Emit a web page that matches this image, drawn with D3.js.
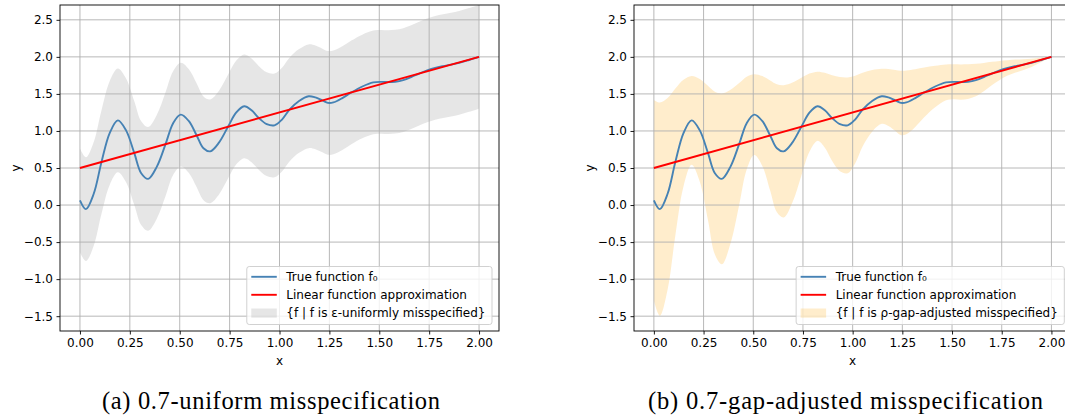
<!DOCTYPE html>
<html>
<head>
<meta charset="utf-8">
<script src="https://cdn.jsdelivr.net/npm/d3@7"></script>
<style>
  html, body { margin: 0; padding: 0; background: #ffffff; }
  svg { display: block; }
</style>
</head>
<body>
<svg id="chart" width="1065" height="420"></svg>
<script>
// ---------------- data ----------------
const xs = [0.000, 0.030, 0.069, 0.108, 0.149, 0.190, 0.231, 0.272, 0.307, 0.342,
            0.3855, 0.429, 0.467, 0.505, 0.545, 0.585, 0.619, 0.653, 0.6975, 0.742,
            0.7825, 0.823, 0.860, 0.897, 0.936, 0.975, 1.0125, 1.050, 1.098, 1.146,
            1.180, 1.215, 1.2425, 1.270, 1.315, 1.360, 1.415, 1.470, 1.510, 1.545,
            1.580, 1.620, 1.660, 1.700, 1.740, 1.780, 1.820, 1.860, 1.900, 1.950, 2.000];

const trueF = [0.063, -0.055, 0.152, 0.581, 0.972, 1.143, 1.008, 0.704, 0.430, 0.353,
               0.519, 0.822, 1.105, 1.220, 1.135, 0.939, 0.766, 0.725, 0.846, 1.057,
               1.246, 1.333, 1.279, 1.173, 1.092, 1.076, 1.154, 1.288, 1.405, 1.468,
               1.452, 1.411, 1.379, 1.385, 1.444, 1.520, 1.600, 1.655, 1.663, 1.659,
               1.665, 1.687, 1.727, 1.775, 1.817, 1.851, 1.875, 1.895, 1.919, 1.958, 2.000];

const linX = [0, 2];
const linY = [0.5, 2.0];

const uniformUpper = [0.763, 0.645, 0.852, 1.281, 1.672, 1.843, 1.708, 1.404, 1.130, 1.053,
                      1.219, 1.522, 1.805, 1.920, 1.835, 1.639, 1.466, 1.425, 1.546, 1.757,
                      1.946, 2.033, 1.979, 1.873, 1.792, 1.776, 1.854, 1.988, 2.105, 2.168,
                      2.152, 2.111, 2.079, 2.085, 2.144, 2.220, 2.300, 2.355, 2.363, 2.359,
                      2.365, 2.387, 2.427, 2.475, 2.517, 2.551, 2.575, 2.595, 2.619, 2.658, 2.700];
const uniformLower = [-0.637, -0.755, -0.548, -0.119, 0.272, 0.443, 0.308, 0.004, -0.270, -0.347,
                      -0.181, 0.122, 0.405, 0.520, 0.435, 0.239, 0.066, 0.025, 0.146, 0.357,
                      0.546, 0.633, 0.579, 0.473, 0.392, 0.376, 0.454, 0.588, 0.705, 0.768,
                      0.752, 0.711, 0.679, 0.685, 0.744, 0.820, 0.900, 0.955, 0.963, 0.959,
                      0.965, 0.987, 1.027, 1.075, 1.117, 1.151, 1.175, 1.195, 1.219, 1.258, 1.300];

const gapUpper = [1.419, 1.384, 1.446, 1.574, 1.692, 1.743, 1.702, 1.611, 1.529, 1.506,
                  1.556, 1.647, 1.732, 1.766, 1.741, 1.682, 1.630, 1.618, 1.654, 1.717,
                  1.774, 1.800, 1.784, 1.752, 1.728, 1.723, 1.746, 1.786, 1.822, 1.840,
                  1.836, 1.823, 1.814, 1.816, 1.833, 1.856, 1.880, 1.897, 1.899, 1.898,
                  1.900, 1.906, 1.918, 1.933, 1.945, 1.955, 1.963, 1.969, 1.976, 1.987, 2.000];
const gapLower = [-1.293, -1.494, -1.142, -0.412, 0.252, 0.543, 0.314, -0.203, -0.669, -0.800,
                  -0.518, -0.003, 0.479, 0.674, 0.530, 0.196, -0.098, -0.168, 0.038, 0.397,
                  0.718, 0.866, 0.774, 0.594, 0.456, 0.429, 0.562, 0.790, 0.989, 1.096,
                  1.068, 0.999, 0.944, 0.955, 1.055, 1.184, 1.320, 1.414, 1.427, 1.420,
                  1.431, 1.468, 1.536, 1.618, 1.689, 1.747, 1.788, 1.822, 1.862, 1.929, 2.000];

const xTicks = [0, 0.25, 0.5, 0.75, 1.0, 1.25, 1.5, 1.75, 2.0];
const yTicks = [-1.5, -1.0, -0.5, 0.0, 0.5, 1.0, 1.5, 2.0, 2.5];
const xDomain = [-0.1, 2.1];
const yDomain = [-1.7, 2.7];

const legendLabels = ["True function f\u2080", "Linear function approximation"];
const bandLabels = ["{f | f is \u03b5-uniformly misspecified}", "{f | f is \u03c1-gap-adjusted misspecified}"];
const captions = ["(a) 0.7-uniform misspecification", "(b) 0.7-gap-adjusted misspecification"];
const axisLabels = ["x", "y"];

// ---------------- layout / style ----------------
const FONT = "'DejaVu Sans', sans-serif";
const FS = 12;
const LW = 1.9;
const TOP = 5, BOTTOM = 331;
const panels = [
  { left: 60,  right: 499,    upper: uniformUpper, lower: uniformLower, fill: "gray",   label: bandLabels[0], caption: captions[0], capCenter: 271,   capWidth: 338 },
  { left: 634, right: 1071.3, upper: gapUpper,     lower: gapLower,     fill: "orange", label: bandLabels[1], caption: captions[1], capCenter: 845.5, capWidth: 395 }
];

const svg = d3.select("#chart");
const defs = svg.append("defs");

panels.forEach((p, i) => {
  const x = d3.scaleLinear().domain(xDomain).range([p.left, p.right]);
  const y = d3.scaleLinear().domain(yDomain).range([BOTTOM, TOP]);
  const g = svg.append("g");

  const clipId = "clip" + i;
  defs.append("clipPath").attr("id", clipId)
    .append("rect").attr("x", p.left).attr("y", TOP)
    .attr("width", p.right - p.left).attr("height", BOTTOM - TOP);

  const plot = g.append("g").attr("clip-path", `url(#${clipId})`);

  // band
  const area = d3.area()
    .x((d, k) => x(xs[k]))
    .y0((d, k) => y(p.lower[k]))
    .y1((d, k) => y(p.upper[k]))
    .curve(d3.curveCatmullRom.alpha(0.5));
  plot.append("path").datum(xs).attr("d", area)
    .attr("fill", p.fill).attr("fill-opacity", 0.2).attr("stroke", "none");

  // grid
  plot.selectAll(".gx").data(xTicks).enter().append("line")
    .attr("x1", d => x(d)).attr("x2", d => x(d))
    .attr("y1", TOP).attr("y2", BOTTOM)
    .attr("stroke", "#b0b0b0").attr("stroke-width", 0.9);
  plot.selectAll(".gy").data(yTicks).enter().append("line")
    .attr("x1", p.left).attr("x2", p.right)
    .attr("y1", d => y(d)).attr("y2", d => y(d))
    .attr("stroke", "#b0b0b0").attr("stroke-width", 0.9);

  // true function
  const line = d3.line()
    .x((d, k) => x(xs[k]))
    .y((d, k) => y(trueF[k]))
    .curve(d3.curveCatmullRom.alpha(0.5));
  plot.append("path").datum(trueF).attr("d", line)
    .attr("fill", "none").attr("stroke", "steelblue").attr("stroke-width", LW);

  // linear approximation
  const lin = d3.line().x((d, k) => x(linX[k])).y((d, k) => y(linY[k]));
  plot.append("path").datum(linY).attr("d", lin)
    .attr("fill", "none").attr("stroke", "red").attr("stroke-width", LW);

  // axes
  const xAxis = d3.axisBottom(x).tickValues(xTicks).tickFormat(d3.format(".2f"))
    .tickSize(3.5).tickPadding(3.5);
  const yAxis = d3.axisLeft(y).tickValues(yTicks).tickFormat(d3.format(".1f"))
    .tickSize(3.5).tickPadding(3.5);
  const gx = g.append("g").attr("transform", `translate(0,${BOTTOM})`).call(xAxis);
  const gy = g.append("g").attr("transform", `translate(${p.left},0)`).call(yAxis);
  [gx, gy].forEach(a => {
    a.select(".domain").remove();
    a.selectAll(".tick line").attr("stroke", "#000").attr("stroke-width", 0.9);
    a.selectAll(".tick text").attr("fill", "#000")
      .style("font-family", FONT).style("font-size", FS + "px");
  });

  // spines
  g.append("rect").attr("x", p.left).attr("y", TOP)
    .attr("width", p.right - p.left).attr("height", BOTTOM - TOP)
    .attr("fill", "none").attr("stroke", "#000").attr("stroke-width", 0.9);

  // axis labels
  g.append("text").attr("x", (p.left + p.right) / 2).attr("y", 364.5)
    .attr("text-anchor", "middle").style("font-family", FONT).style("font-size", FS + "px")
    .text(axisLabels[0]);
  g.append("text").attr("transform", `translate(${p.left - 43.5},${(TOP + BOTTOM) / 2}) rotate(-90)`)
    .attr("text-anchor", "middle").attr("dy", "0.32em")
    .style("font-family", FONT).style("font-size", FS + "px")
    .text(axisLabels[1]);

  // legend
  const lg = g.append("g");
  const entries = [legendLabels[0], legendLabels[1], p.label];
  const rowY = [10.3, 28.3, 46.6];
  const texts = entries.map((t, k) => lg.append("text")
    .attr("y", rowY[k]).attr("dy", "0.35em")
    .style("font-family", FONT).style("font-size", FS + "px").text(t));
  const maxW = d3.max(texts, t => t.node().getComputedTextLength());
  const boxW = 39.5 + maxW + 6.5;
  const boxH = 58;
  const bx = p.right - 7 - boxW, by = BOTTOM - 6.5 - boxH;
  lg.attr("transform", `translate(${bx},${by})`);
  lg.insert("rect", ":first-child").attr("x", 0).attr("y", 0)
    .attr("width", boxW).attr("height", boxH).attr("rx", 2.5)
    .attr("fill", "#fff").attr("fill-opacity", 0.8)
    .attr("stroke", "#cccccc").attr("stroke-width", 0.9);
  texts.forEach(t => t.attr("x", 39.5));
  lg.append("line").attr("x1", 4.5).attr("x2", 30).attr("y1", rowY[0]).attr("y2", rowY[0])
    .attr("stroke", "steelblue").attr("stroke-width", LW);
  lg.append("line").attr("x1", 4.5).attr("x2", 30).attr("y1", rowY[1]).attr("y2", rowY[1])
    .attr("stroke", "red").attr("stroke-width", LW);
  lg.append("rect").attr("x", 4.5).attr("y", rowY[2] - 4.6).attr("width", 25.5).attr("height", 9.2)
    .attr("fill", p.fill).attr("fill-opacity", 0.2);

  // caption
  svg.append("text").attr("x", p.capCenter).attr("y", 409)
    .attr("text-anchor", "middle")
    .attr("textLength", p.capWidth).attr("lengthAdjust", "spacing")
    .style("font-family", "'Liberation Serif', 'DejaVu Serif', serif")
    .style("font-size", "24.5px").attr("fill", "#000").text(p.caption);
});
</script>
</body>
</html>
